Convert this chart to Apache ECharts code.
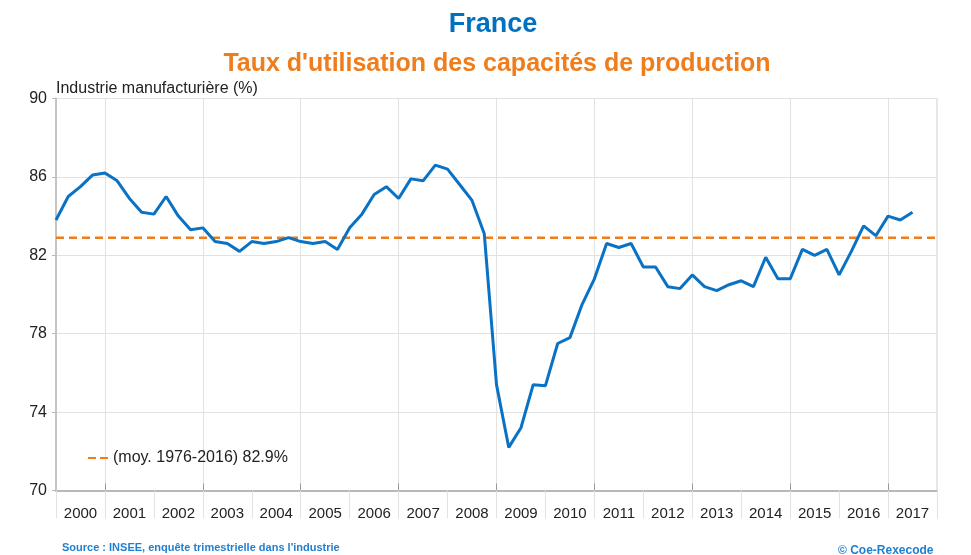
<!DOCTYPE html>
<html>
<head>
<meta charset="utf-8">
<script src="https://cdn.jsdelivr.net/npm/echarts@6/dist/echarts.min.js"></script>
<style>
  html, body { margin: 0; padding: 0; background: #fff; }
  #chart { width: 971px; height: 555px; }
</style>
</head>
<body>
<div id="chart"></div>
<script>
// quarterly series, 2000 Q1 -> 2017 Q3
const startYear = 2000
const endYear = 2018
const tupValues = [
  83.8, 85.0, 85.5, 86.1, 86.2, 85.8, 84.9, 84.2,
  84.1, 85.0, 84.0, 83.3, 83.4, 82.7, 82.6, 82.2,
  82.7, 82.6, 82.7, 82.9, 82.7, 82.6, 82.7, 82.3,
  83.4, 84.1, 85.1, 85.5, 84.9, 85.9, 85.8, 86.6,
  86.4, 85.6, 84.8, 83.1, 75.4, 72.2, 73.2, 75.4,
  75.35, 77.5, 77.8, 79.5, 80.8, 82.6, 82.4, 82.6,
  81.4, 81.4, 80.4, 80.3, 81.0, 80.4, 80.2, 80.5,
  80.7, 80.4, 81.9, 80.8, 80.8, 82.3, 82.0, 82.3,
  81.0, 82.2, 83.5, 83.0, 84.0, 83.8, 84.2
]
const avgValue = 82.9
const avgLabel = '(moy. 1976-2016) 82.9%'
const yearLabels = []
for (let y = startYear; y < endYear; y++) yearLabels.push(y)

const blue = '#0a72c4'
const orange = '#f07d1c'

const chart = echarts.init(document.getElementById('chart'))

const lineData = tupValues.map((v, i) => [startYear + i / 4, v])
const avgData = [[startYear, avgValue], [endYear, avgValue]]

const option = {
  animation: false,
  textStyle: { fontFamily: 'Liberation Sans, Arial, sans-serif' },
  title: [
    {
      text: 'France',
      left: 488,
      top: 6,
      textAlign: 'center',
      textStyle: { color: '#0070c0', fontSize: 27, fontWeight: 'bold' }
    },
    {
      text: "Taux d'utilisation des capacités de production",
      left: 492,
      top: 47,
      textAlign: 'center',
      textStyle: { color: orange, fontSize: 25, fontWeight: 'bold' }
    }
  ],
  legend: {
    left: 83,
    top: 445,
    itemWidth: 20,
    itemHeight: 3,
    itemGap: 6,
    data: [{ name: avgLabel, icon: 'path://M0,0H8V2H0Z M12,0H20V2H12Z' }],
    textStyle: { fontSize: 16, color: '#222' }
  },
  grid: {
    left: 56,
    right: 34,
    top: 98.5,
    bottom: 64.5,
    show: true,
    borderColor: '#cfcfcf',
    borderWidth: 1
  },
  xAxis: [
    {
      type: 'value',
      min: startYear,
      max: endYear,
      interval: 1,
      axisLine: { lineStyle: { color: '#b8b8b8', width: 2 } },
      axisTick: {
        show: true,
        inside: true,
        length: 7,
        customValues: yearLabels.filter((y) => y % 2 === 1),
        lineStyle: { color: '#999' }
      },
      axisLabel: {
        customValues: yearLabels.map((y) => y + 0.5),
        formatter: (v) => String(Math.floor(v)),
        fontSize: 15,
        color: '#222',
        margin: 16
      },
      splitLine: { show: true, lineStyle: { color: '#e2e2e2' } }
    },
    {
      // separators between the year labels
      type: 'value',
      position: 'bottom',
      min: startYear,
      max: endYear,
      interval: 1,
      axisLine: { show: false },
      axisTick: { show: true, length: 28, lineStyle: { color: '#e2e2e2' } },
      axisLabel: { show: false },
      splitLine: { show: false }
    }
  ],
  yAxis: {
    type: 'value',
    min: 70,
    max: 90,
    interval: 4,
    name: 'Industrie manufacturière (%)',
    nameLocation: 'end',
    nameGap: 2,
    nameTextStyle: { align: 'left', verticalAlign: 'bottom', fontSize: 16, color: '#222' },
    axisLine: { show: true, lineStyle: { color: '#c4c4c4', width: 2 } },
    axisTick: { show: true, length: 4, lineStyle: { color: '#bbb' } },
    axisLabel: { fontSize: 16, color: '#222', margin: 9 },
    splitLine: { lineStyle: { color: '#e2e2e2' } }
  },
  series: [
    {
      name: avgLabel,
      type: 'line',
      data: avgData,
      symbol: 'none',
      lineStyle: { color: orange, width: 2.5, type: [8, 5] },
      itemStyle: { color: orange },
      z: 3
    },
    {
      name: 'TUC',
      type: 'line',
      data: lineData,
      symbol: 'none',
      lineStyle: { color: blue, width: 3 },
      itemStyle: { color: blue },
      z: 4
    }
  ],
  graphic: [
    {
      type: 'text',
      left: 62,
      top: 542,
      style: {
        text: "Source : INSEE, enquête trimestrielle dans l'industrie",
        fill: '#1f7fd0',
        font: 'bold 11px Liberation Sans, Arial, sans-serif'
      }
    },
    {
      type: 'text',
      left: 838,
      top: 545,
      style: {
        text: '© Coe-Rexecode',
        fill: '#1f7fd0',
        font: 'bold 12px Liberation Sans, Arial, sans-serif'
      }
    }
  ]
}

chart.setOption(option)
</script>
</body>
</html>
